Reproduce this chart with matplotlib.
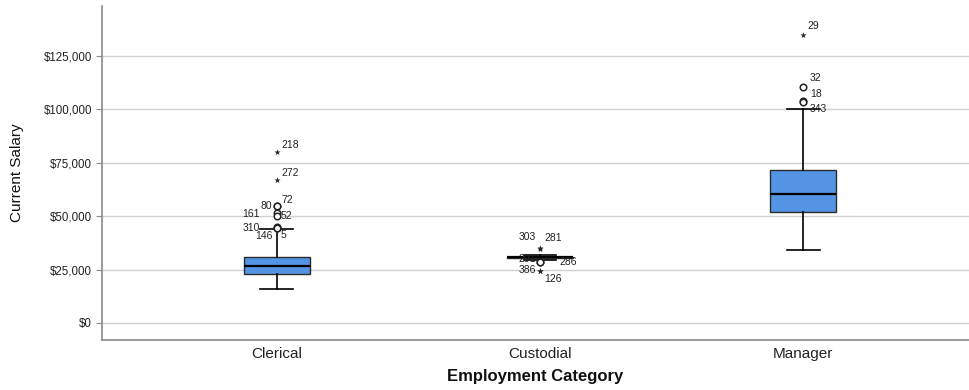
import matplotlib
matplotlib.use("Agg")
import matplotlib.pyplot as plt
from matplotlib.ticker import FuncFormatter

categories = ["Clerical", "Custodial", "Manager"]

# box statistics
whisker_low = [15750, 29700, 34410]
q1 = [22950, 30300, 51950]
median = [26600, 30750, 60500]
q3 = [31000, 30975, 71500]
whisker_high = [43950, 31650, 100000]

# mild outliers (circles): category index, value, case id
circle_cat = [0, 0, 0, 0, 0, 0, 0, 1, 1, 2, 2, 2]
circle_val = [54900, 54600, 51500, 50000, 45100, 44500, 44300, 28700, 28700, 110625, 103750, 103500]
circle_id = ["72", "80", "161", "52", "310", "146", "5", "291", "286", "32", "18", "343"]

# extreme outliers (stars)
star_cat = [0, 0, 1, 1, 1, 1, 2]
star_val = [80000, 66875, 35250, 34500, 24300, 24300, 135000]
star_id = ["218", "272", "303", "281", "386", "126", "29"]

yticks = [0, 25000, 50000, 75000, 100000, 125000]

# label offsets (points) per case id
label_offsets = {
    "218": (3, 5, "left"), "272": (3, 5, "left"), "72": (3, 4, "left"),
    "80": (-3, 0, "right"), "161": (-12, -1, "right"), "52": (3, 0, "left"),
    "310": (-12, -1, "right"), "146": (-3, -6, "right"), "5": (3, -5, "left"),
    "291": (-3, 2, "right"), "286": (14, 0, "left"), "303": (-3, 8, "right"),
    "281": (3, 8, "left"), "386": (-3, 1, "right"), "126": (3, -6, "left"),
    "29": (3, 6, "left"), "32": (5, 6, "left"), "18": (5, 5, "left"),
    "343": (5, -5, "left"),
}

fig = plt.figure(figsize=(9.69, 3.90), dpi=100)
ax = fig.add_axes([0.105, 0.128, 0.895, 0.857])

stats = []
for i, c in enumerate(categories):
    stats.append(dict(label=c, whislo=whisker_low[i], q1=q1[i], med=median[i],
                      q3=q3[i], whishi=whisker_high[i], fliers=[]))

ax.bxp(stats, positions=range(len(categories)), widths=0.25, patch_artist=True,
       showfliers=False,
       boxprops=dict(facecolor="#5494E4", edgecolor="#2b2b2b", linewidth=1.0),
       medianprops=dict(color="black", linewidth=1.6),
       whiskerprops=dict(color="black", linewidth=1.2),
       capprops=dict(color="black", linewidth=1.2), capwidths=0.125, zorder=3)

ax.scatter(circle_cat, circle_val, s=22, facecolors="white", edgecolors="#222222",
           linewidths=1.1, zorder=4)
ax.scatter(star_cat, star_val, marker="*", s=22, color="#222222", linewidths=0, zorder=4)

for xs, vs, ids in ((circle_cat, circle_val, circle_id), (star_cat, star_val, star_id)):
    for x, v, t in zip(xs, vs, ids):
        dx, dy, ha = label_offsets[t]
        ax.annotate(t, (x, v), xytext=(dx, dy), textcoords="offset points",
                    ha=ha, va="center", fontsize=7.5, color="#222222",
                    family=["Liberation Sans", "DejaVu Sans"], zorder=5)

ax.set_xlim(-0.665, 2.63)
ax.set_ylim(-8000, 148500)
ax.set_yticks(yticks)
ax.yaxis.set_major_formatter(FuncFormatter(lambda v, p: "${:,.0f}".format(v)))
ax.set_xticks(range(len(categories)))
ax.set_xticklabels(categories, fontsize=11, family=["Liberation Sans", "DejaVu Sans"], color="#222222")
for lab in ax.get_yticklabels():
    lab.set_fontsize(8.3)
    lab.set_family(["Liberation Sans", "DejaVu Sans"])
    lab.set_color("#222222")

ax.grid(axis="y", color="#d0d0d0", linewidth=1.0, zorder=0)
ax.set_axisbelow(True)
for s in ("top", "right"):
    ax.spines[s].set_visible(False)
for s in ("left", "bottom"):
    ax.spines[s].set_color("#8a8a8a")
    ax.spines[s].set_linewidth(1.2)
ax.tick_params(axis="x", length=0, pad=5)
ax.tick_params(axis="y", length=4, color="#8a8a8a", pad=3)

ax.set_xlabel("Employment Category", fontsize=12, fontweight="bold",
              family=["Liberation Sans", "DejaVu Sans"], labelpad=6, color="#111111")
ax.set_ylabel("Current Salary", fontsize=11,
              family=["Liberation Sans Narrow", "Liberation Sans", "DejaVu Sans"],
              labelpad=14, color="#111111")

fig.savefig("out.png", dpi=100)
